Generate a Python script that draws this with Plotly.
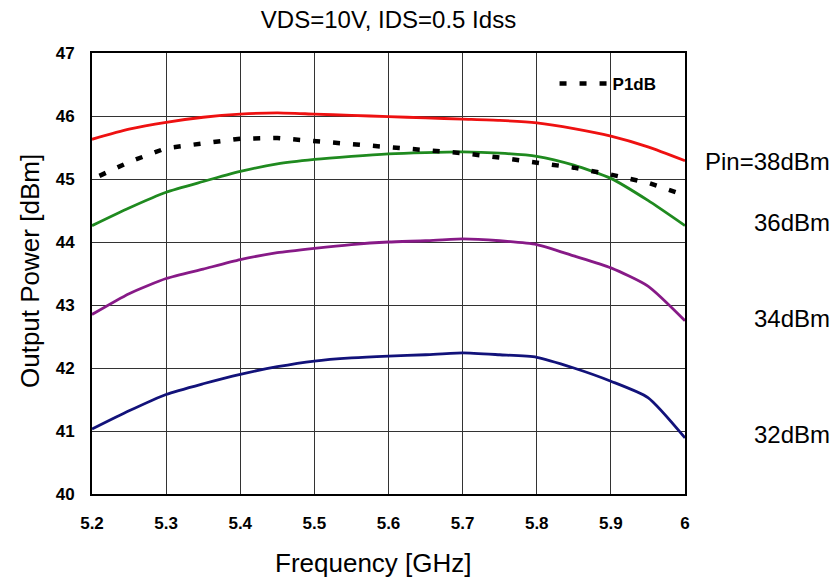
import plotly.graph_objects as go

freq = [5.2, 5.25, 5.3, 5.35, 5.4, 5.45, 5.5, 5.55, 5.6, 5.65, 5.7, 5.75, 5.8, 5.85, 5.9, 5.95, 6.0]
pin38 = [45.63, 45.79, 45.90, 45.98, 46.03, 46.05, 46.03, 46.01, 45.99, 45.97, 45.95, 45.93, 45.89, 45.80, 45.68, 45.51, 45.29]
pin36 = [44.26, 44.54, 44.79, 44.96, 45.12, 45.24, 45.31, 45.36, 45.40, 45.42, 45.43, 45.41, 45.36, 45.22, 45.01, 44.66, 44.26]
pin34 = [42.85, 43.18, 43.42, 43.57, 43.72, 43.83, 43.90, 43.96, 44.00, 44.02, 44.05, 44.02, 43.96, 43.78, 43.59, 43.30, 42.75]
pin32 = [41.03, 41.32, 41.58, 41.75, 41.90, 42.02, 42.11, 42.16, 42.19, 42.21, 42.24, 42.21, 42.17, 42.00, 41.79, 41.53, 40.89]
p1db_freq = [5.21, 5.25, 5.3, 5.35, 5.4, 5.45, 5.5, 5.55, 5.6, 5.65, 5.7, 5.75, 5.8, 5.85, 5.9, 5.95, 6.0]
p1db = [45.05, 45.27, 45.49, 45.57, 45.64, 45.65, 45.60, 45.55, 45.50, 45.45, 45.41, 45.34, 45.26, 45.18, 45.07, 44.94, 44.74]

x_ticks = [5.2, 5.3, 5.4, 5.5, 5.6, 5.7, 5.8, 5.9, 6.0]
x_ticklabels = ["5.2", "5.3", "5.4", "5.5", "5.6", "5.7", "5.8", "5.9", "6"]
y_ticks = [40, 41, 42, 43, 44, 45, 46, 47]

curve_labels = ["Pin=38dBm", "36dBm", "34dBm", "32dBm"]
label_y = [0.7535, 0.615, 0.399, 0.134]

FONT = "Liberation Sans, Arial, sans-serif"

fig = go.Figure()
series = [(pin38, "#ee1111"), (pin36, "#1f8a1f"), (pin34, "#871a87"), (pin32, "#12127a")]
for vals, col in series:
    fig.add_trace(go.Scatter(x=freq, y=vals, mode="lines", showlegend=False,
                             line=dict(color=col, width=2.8, shape="spline", smoothing=0.6)))

fig.add_trace(go.Scatter(x=p1db_freq, y=p1db, mode="lines", name="P1dB",
                         line=dict(color="black", width=4.5, dash="7px,13px")))

for txt, yy in zip(curve_labels, label_y):
    fig.add_annotation(text=txt, xref="paper", yref="paper", x=1.248, y=yy,
                       xanchor="right", yanchor="middle", showarrow=False,
                       font=dict(family=FONT, size=24, color="black"))

fig.add_annotation(text="Output Power [dBm]", xref="paper", yref="paper",
                   x=(30 - 92) / 593, y=(494 - 271) / 441, textangle=-90, showarrow=False,
                   xanchor="center", yanchor="middle",
                   font=dict(family=FONT, size=26, color="black"))
fig.add_annotation(text="Frequency [GHz]", xref="paper", yref="paper",
                   x=0.4755, y=-0.156, showarrow=False,
                   xanchor="center", yanchor="middle",
                   font=dict(family=FONT, size=26, color="black"))

fig.update_layout(
    width=836, height=579,
    margin=dict(l=92, r=151, t=53, b=85),
    paper_bgcolor="white", plot_bgcolor="white",
    title=dict(text="VDS=10V, IDS=0.5 Idss", x=0.5, xref="paper",
               y=1 - 20 / 579, yref="container", yanchor="middle", xanchor="center",
               font=dict(family=FONT, size=24, color="black")),
    legend=dict(x=0.78, y=0.93, xanchor="left", yanchor="middle",
                bgcolor="rgba(255,255,255,0)", itemwidth=48,
                font=dict(family=FONT, size=17, color="black", weight="bold")),
    xaxis=dict(range=[5.2, 6.0], tickvals=x_ticks, ticktext=x_ticklabels,
               showgrid=True, gridcolor="#333333", gridwidth=1,
               showline=True, linecolor="black", linewidth=2, mirror=True,
               ticks="", ticklabelstandoff=13, zeroline=False,
               tickfont=dict(family=FONT, size=17, color="black", weight="bold")),
    yaxis=dict(range=[40, 47], tickvals=y_ticks,
               showgrid=True, gridcolor="#333333", gridwidth=1,
               showline=True, linecolor="black", linewidth=2, mirror=True,
               ticks="", ticklabelstandoff=12, zeroline=False,
               tickfont=dict(family=FONT, size=17, color="black", weight="bold")),
)

fig.write_html("out.html")
